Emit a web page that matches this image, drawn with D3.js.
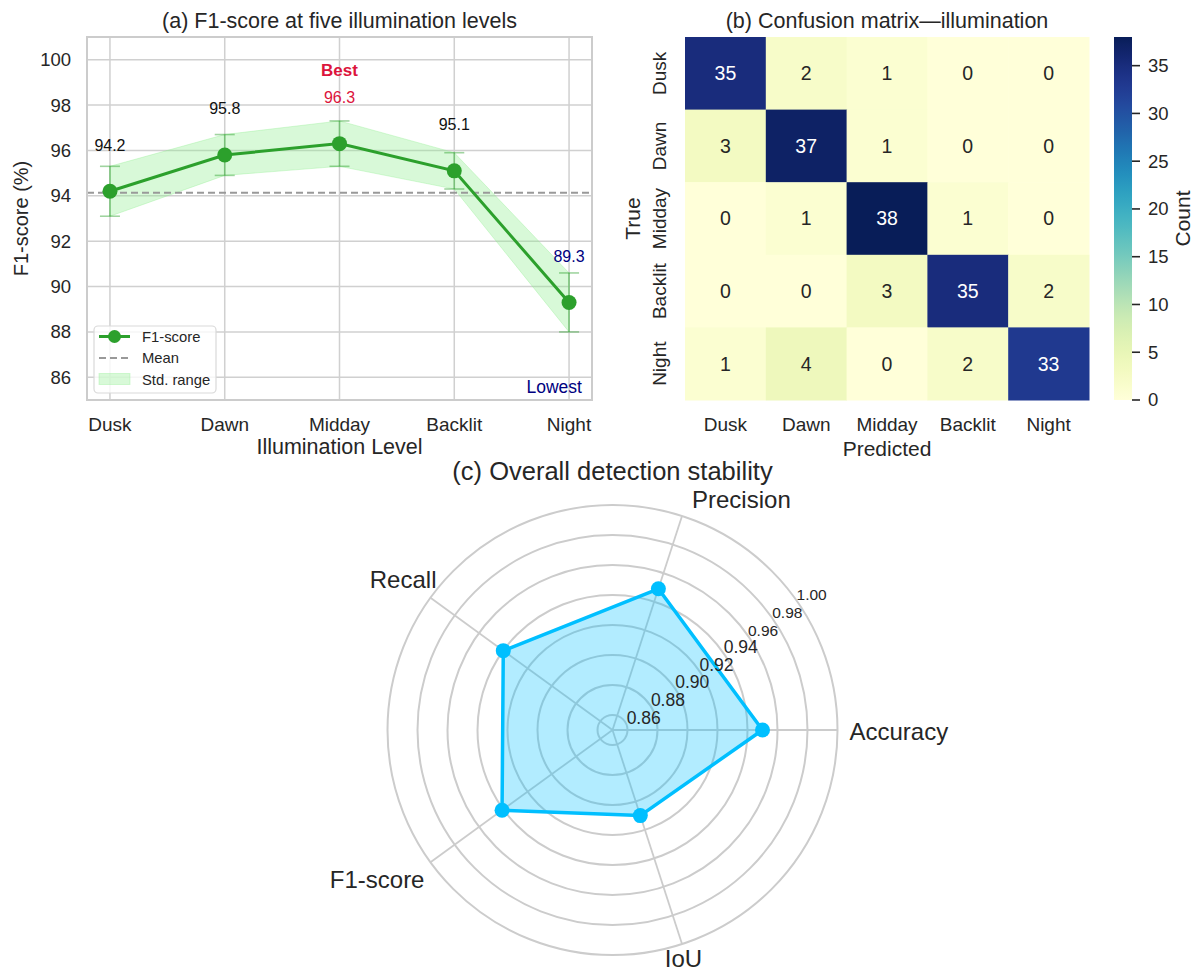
<!DOCTYPE html>
<html>
<head>
<meta charset="utf-8">
<script src="https://cdn.jsdelivr.net/npm/d3@7"></script>
<style>
  html, body { margin: 0; padding: 0; background: #ffffff; }
  svg { display: block; font-family: "Liberation Sans", Arial, Helvetica, sans-serif; }
</style>
</head>
<body>
<svg id="fig" width="1199" height="972"></svg>
<script>
// ---- data -------------------------------------------------------------
const levels = ["Dusk", "Dawn", "Midday", "Backlit", "Night"];
const f1Scores = [94.2, 95.8, 96.3, 95.1, 89.3];
const f1Std = [1.1, 0.9, 1.0, 0.8, 1.3];
const f1Ticks = [86, 88, 90, 92, 94, 96, 98, 100];

const confusion = [
  [35, 2, 1, 0, 0],
  [3, 37, 1, 0, 0],
  [0, 1, 38, 1, 0],
  [0, 0, 3, 35, 2],
  [1, 4, 0, 2, 33]
];
const countTicks = [0, 5, 10, 15, 20, 25, 30, 35];

const metrics = ["Accuracy", "Precision", "Recall", "F1-score", "IoU"];
const metricValues = [0.950, 0.949, 0.940, 0.941, 0.910];
const radialTicks = [0.86, 0.88, 0.90, 0.92, 0.94, 0.96, 0.98, 1.00];

// ---- shared styles ----------------------------------------------------
const INK = "#262626";
const GRID = "#d0d0d0";
const svg = d3.select("#fig");
svg.append("rect").attr("width", 1199).attr("height", 972).attr("fill", "#fff");

// ======================================================================
// (a) F1-score line with std band
// ======================================================================
{
  const L = 87, R = 592, T = 37, B = 400;
  const x = d3.scaleLinear().domain([-0.2, levels.length - 1 + 0.2]).range([L, R]);
  const y = d3.scaleLinear().domain([85, 101]).range([B, T]);
  const g = svg.append("g");

  // grid
  g.selectAll(".hg").data(f1Ticks).join("line")
    .attr("x1", L).attr("x2", R).attr("y1", d => y(d)).attr("y2", d => y(d))
    .attr("stroke", GRID).attr("stroke-width", 1.5);
  g.selectAll(".vg").data(levels).join("line")
    .attr("x1", (d, i) => x(i)).attr("x2", (d, i) => x(i)).attr("y1", T).attr("y2", B)
    .attr("stroke", GRID).attr("stroke-width", 1.5);

  // std band
  const band = d3.area()
    .x((d, i) => x(i))
    .y0((d, i) => y(d - f1Std[i]))
    .y1((d, i) => y(d + f1Std[i]));
  g.append("path").datum(f1Scores).attr("d", band)
    .attr("fill", "#90ee90").attr("fill-opacity", 0.35)
    .attr("stroke", "#90ee90").attr("stroke-opacity", 0.35).attr("stroke-width", 1);

  // mean line
  const mean = d3.mean(f1Scores);
  g.append("line").attr("x1", L).attr("x2", R).attr("y1", y(mean)).attr("y2", y(mean))
    .attr("stroke", "#999").attr("stroke-width", 2).attr("stroke-dasharray", "7,4");

  // error bars
  const eb = g.selectAll(".eb").data(f1Scores).join("g").attr("stroke", "#2ca02c")
    .attr("stroke-opacity", 0.45).attr("stroke-width", 1.6);
  eb.append("line").attr("x1", (d, i) => x(i)).attr("x2", (d, i) => x(i))
    .attr("y1", (d, i) => y(d - f1Std[i])).attr("y2", (d, i) => y(d + f1Std[i]));
  eb.append("line").attr("x1", (d, i) => x(i) - 10).attr("x2", (d, i) => x(i) + 10)
    .attr("y1", (d, i) => y(d - f1Std[i])).attr("y2", (d, i) => y(d - f1Std[i]));
  eb.append("line").attr("x1", (d, i) => x(i) - 10).attr("x2", (d, i) => x(i) + 10)
    .attr("y1", (d, i) => y(d + f1Std[i])).attr("y2", (d, i) => y(d + f1Std[i]));

  // main line + markers
  g.append("path").datum(f1Scores)
    .attr("d", d3.line().x((d, i) => x(i)).y(d => y(d)))
    .attr("fill", "none").attr("stroke", "#2ca02c").attr("stroke-width", 3);
  g.selectAll(".pt").data(f1Scores).join("circle")
    .attr("cx", (d, i) => x(i)).attr("cy", d => y(d)).attr("r", 7.5).attr("fill", "#2ca02c");

  // value labels
  const best = d3.maxIndex(f1Scores), worst = d3.minIndex(f1Scores);
  const lift = 40.5;
  g.selectAll(".vl").data(f1Scores).join("text")
    .attr("x", (d, i) => x(i)).attr("y", d => y(d) - lift)
    .attr("text-anchor", "middle").attr("font-size", 16)
    .attr("fill", (d, i) => i === best ? "crimson" : i === worst ? "navy" : "#111")
    .text(d => d.toFixed(1));
  g.append("text").attr("x", x(best)).attr("y", y(f1Scores[best] + 3))
    .attr("text-anchor", "middle").attr("font-size", 17).attr("font-weight", "bold")
    .attr("fill", "crimson").text("Best");
  g.append("text").attr("x", R - 0.02 * (R - L)).attr("y", B - 0.02 * (B - T))
    .attr("text-anchor", "end").attr("font-size", 17.5).attr("fill", "navy").text("Lowest");

  // frame
  g.append("rect").attr("x", L).attr("y", T).attr("width", R - L).attr("height", B - T)
    .attr("fill", "none").attr("stroke", "#cccccc").attr("stroke-width", 2);

  // ticks
  g.selectAll(".yt").data(f1Ticks).join("text")
    .attr("x", L - 16).attr("y", d => y(d)).attr("dy", "0.35em")
    .attr("text-anchor", "end").attr("font-size", 18.5).attr("fill", INK).text(d => d);
  g.selectAll(".xt").data(levels).join("text")
    .attr("x", (d, i) => x(i)).attr("y", 424.5).attr("dy", "0.35em")
    .attr("text-anchor", "middle").attr("font-size", 19).attr("fill", INK).text(d => d);

  g.append("text").attr("x", (L + R) / 2).attr("y", 446).attr("dy", "0.35em")
    .attr("text-anchor", "middle").attr("font-size", 21.5).attr("fill", INK).text("Illumination Level");
  g.append("text").attr("transform", `translate(21,${(T + B) / 2}) rotate(-90)`).attr("dy", "0.35em")
    .attr("text-anchor", "middle").attr("font-size", 20).attr("fill", INK).text("F1-score (%)");
  g.append("text").attr("x", (L + R) / 2).attr("y", 28)
    .attr("text-anchor", "middle").attr("font-size", 21.5).attr("fill", INK)
    .text("(a) F1-score at five illumination levels");

  // legend
  const lg = g.append("g");
  lg.append("rect").attr("x", 94).attr("y", 326).attr("width", 122).attr("height", 67).attr("rx", 4)
    .attr("fill", "#fff").attr("fill-opacity", 0.8).attr("stroke", "#d9d9d9").attr("stroke-width", 1.2);
  const ly = [336.5, 358, 379.5];
  lg.append("line").attr("x1", 99).attr("x2", 130).attr("y1", ly[0]).attr("y2", ly[0])
    .attr("stroke", "#2ca02c").attr("stroke-width", 3);
  lg.append("circle").attr("cx", 114.5).attr("cy", ly[0]).attr("r", 6.5).attr("fill", "#2ca02c");
  lg.append("line").attr("x1", 99).attr("x2", 130).attr("y1", ly[1]).attr("y2", ly[1])
    .attr("stroke", "#999").attr("stroke-width", 2).attr("stroke-dasharray", "7,4");
  lg.append("rect").attr("x", 99).attr("y", ly[2] - 6).attr("width", 31).attr("height", 11)
    .attr("fill", "#90ee90").attr("fill-opacity", 0.35).attr("stroke", "#90ee90").attr("stroke-opacity", 0.35);
  lg.selectAll(".lt").data(["F1-score", "Mean", "Std. range"]).join("text")
    .attr("x", 142).attr("y", (d, i) => ly[i]).attr("dy", "0.35em")
    .attr("font-size", 14.8).attr("fill", INK).text(d => d);
}

// ======================================================================
// (b) Confusion matrix heatmap
// ======================================================================
{
  const L = 685, R = 1089, T = 37, B = 400;
  const x = d3.scaleBand().domain(levels).range([L, R]);
  const y = d3.scaleBand().domain(levels).range([T, B]);
  const vmax = d3.max(confusion.flat());
  const color = d3.scaleSequential(d3.interpolateYlGnBu).domain([0, vmax]);
  const g = svg.append("g");

  const cells = confusion.flatMap((row, i) => row.map((v, j) => ({ r: levels[i], c: levels[j], v })));
  g.selectAll(".cell").data(cells).join("rect")
    .attr("x", d => x(d.c)).attr("y", d => y(d.r))
    .attr("width", x.bandwidth() + 0.5).attr("height", y.bandwidth() + 0.5)
    .attr("fill", d => color(d.v));
  g.selectAll(".ann").data(cells).join("text")
    .attr("x", d => x(d.c) + x.bandwidth() / 2).attr("y", d => y(d.r) + y.bandwidth() / 2)
    .attr("dy", "0.35em").attr("text-anchor", "middle").attr("font-size", 19.5)
    .attr("fill", d => d.v > vmax / 2 ? "#fff" : INK).text(d => d.v);

  g.selectAll(".xt").data(levels).join("text")
    .attr("x", d => x(d) + x.bandwidth() / 2).attr("y", 424).attr("dy", "0.35em")
    .attr("text-anchor", "middle").attr("font-size", 19).attr("fill", INK).text(d => d);
  g.selectAll(".yt").data(levels).join("text")
    .attr("transform", d => `translate(659,${y(d) + y.bandwidth() / 2}) rotate(-90)`).attr("dy", "0.35em")
    .attr("text-anchor", "middle").attr("font-size", 19).attr("fill", INK).text(d => d);

  g.append("text").attr("x", (L + R) / 2).attr("y", 449).attr("dy", "0.35em")
    .attr("text-anchor", "middle").attr("font-size", 21).attr("fill", INK).text("Predicted");
  g.append("text").attr("transform", `translate(633,${(T + B) / 2}) rotate(-90)`).attr("dy", "0.35em")
    .attr("text-anchor", "middle").attr("font-size", 21).attr("fill", INK).text("True");
  g.append("text").attr("x", (L + R) / 2).attr("y", 28)
    .attr("text-anchor", "middle").attr("font-size", 21.5).attr("fill", INK)
    .text("(b) Confusion matrix\u2014illumination");

  // colorbar
  const cbL = 1114, cbW = 18;
  const cy = d3.scaleLinear().domain([0, vmax]).range([B, T]);
  const defs = svg.append("defs");
  const grad = defs.append("linearGradient").attr("id", "cbar")
    .attr("x1", 0).attr("x2", 0).attr("y1", 1).attr("y2", 0);
  d3.range(0, 1.0001, 0.02).forEach(t => {
    grad.append("stop").attr("offset", t).attr("stop-color", color(t * vmax));
  });
  g.append("rect").attr("x", cbL).attr("y", T).attr("width", cbW).attr("height", B - T)
    .attr("fill", "url(#cbar)");
  g.selectAll(".cbt").data(countTicks).join("line")
    .attr("x1", cbL + cbW).attr("x2", cbL + cbW + 8).attr("y1", d => cy(d)).attr("y2", d => cy(d))
    .attr("stroke", INK).attr("stroke-width", 1.6);
  g.selectAll(".cbl").data(countTicks).join("text")
    .attr("x", cbL + cbW + 16).attr("y", d => cy(d)).attr("dy", "0.35em")
    .attr("font-size", 18.5).attr("fill", INK).text(d => d);
  g.append("text").attr("transform", `translate(1183,${(T + B) / 2}) rotate(-90)`).attr("dy", "0.35em")
    .attr("text-anchor", "middle").attr("font-size", 21).attr("fill", INK).text("Count");
}

// ======================================================================
// (c) Radar chart of overall metrics
// ======================================================================
{
  const cx = 612.5, cyy = 730, Rmax = 225;
  const r = d3.scaleLinear().domain([0.85, 1.0]).range([0, Rmax]);
  const ang = i => i * 2 * Math.PI / metrics.length;
  const px = (i, v) => cx + r(v) * Math.cos(ang(i));
  const py = (i, v) => cyy - r(v) * Math.sin(ang(i));
  const g = svg.append("g");

  // rings and spokes
  g.selectAll(".ring").data(radialTicks).join("circle")
    .attr("cx", cx).attr("cy", cyy).attr("r", d => r(d))
    .attr("fill", "none").attr("stroke", "#cccccc").attr("stroke-width", 2);
  g.selectAll(".spoke").data(metrics).join("line")
    .attr("x1", cx).attr("y1", cyy)
    .attr("x2", (d, i) => px(i, 1.0)).attr("y2", (d, i) => py(i, 1.0))
    .attr("stroke", "#cccccc").attr("stroke-width", 1.8);

  // polygon
  const pts = metricValues.map((v, i) => [px(i, v), py(i, v)]);
  g.append("polygon").attr("points", pts.map(p => p.join(",")).join(" "))
    .attr("fill", "#00bfff").attr("fill-opacity", 0.3)
    .attr("stroke", "#00bfff").attr("stroke-width", 3.5).attr("stroke-linejoin", "round");
  g.selectAll(".mk").data(pts).join("circle")
    .attr("cx", d => d[0]).attr("cy", d => d[1]).attr("r", 7.5).attr("fill", "#00bfff");

  // radial tick labels along the bisector between the first two axes
  const la = Math.PI / metrics.length;
  g.selectAll(".rt").data(radialTicks).join("text")
    .attr("x", d => cx + r(d) * Math.cos(la) + 2)
    .attr("y", d => cyy - r(d) * Math.sin(la) + 2.5)
    .attr("font-size", d => d > 0.95 ? 15.5 : 17.5).attr("fill", INK)
    .text(d => d.toFixed(2));

  // axis labels: anchor and nudge per direction
  const labelPlace = {
    "Accuracy": ["start", 12, 10],
    "Precision": ["start", 10, -8],
    "Recall": ["end", 6, -10],
    "F1-score": ["end", -6, 26],
    "IoU": ["middle", 1.5, 23]
  };
  g.selectAll(".al").data(metrics).join("text")
    .attr("x", (d, i) => px(i, 1.0) + labelPlace[d][1])
    .attr("y", (d, i) => py(i, 1.0) + labelPlace[d][2])
    .attr("text-anchor", d => labelPlace[d][0])
    .attr("font-size", 24).attr("fill", INK).text(d => d);

  g.append("text").attr("x", 612.5).attr("y", 480)
    .attr("text-anchor", "middle").attr("font-size", 25.5).attr("fill", INK)
    .text("(c) Overall detection stability");
}
</script>
</body>
</html>
